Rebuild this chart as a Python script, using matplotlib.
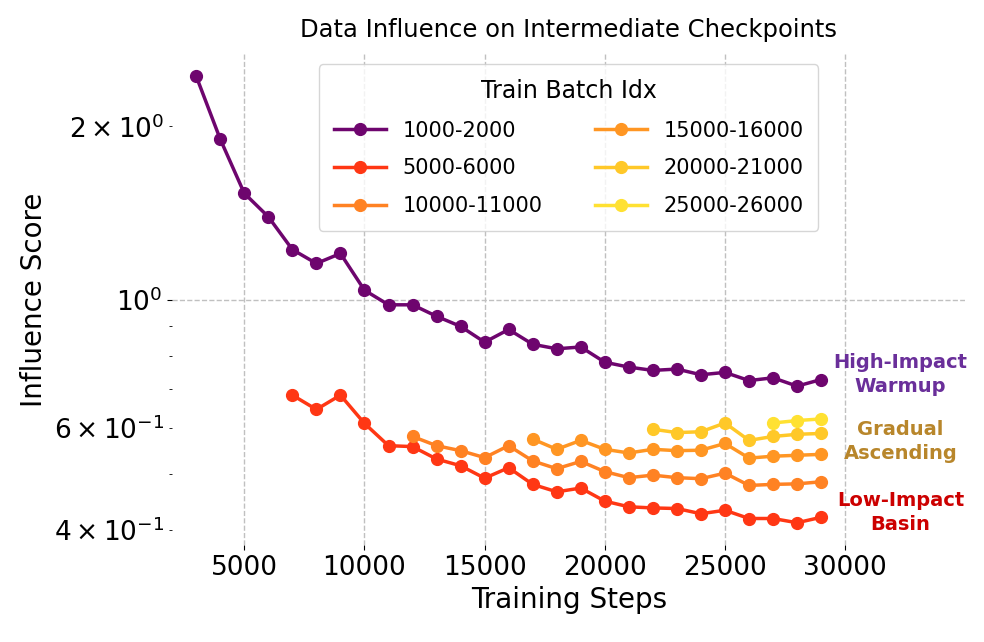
import matplotlib
matplotlib.use('Agg')
import matplotlib.pyplot as plt

plt.rcParams['font.family'] = ['DejaVu Sans']

# training steps of each checkpoint
steps_1000 = list(range(3000, 30000, 1000))
steps_5000 = list(range(7000, 30000, 1000))
steps_10000 = list(range(12000, 30000, 1000))
steps_15000 = list(range(17000, 30000, 1000))
steps_20000 = list(range(22000, 30000, 1000))
steps_25000 = list(range(27000, 30000, 1000))

# influence scores
score_1000 = [2.443, 1.900, 1.531, 1.394, 1.223, 1.157, 1.204, 1.040, 0.981, 0.981,
              0.937, 0.900, 0.845, 0.889, 0.838, 0.823, 0.829, 0.780, 0.765, 0.755,
              0.759, 0.742, 0.749, 0.725, 0.733, 0.709, 0.728]
score_5000 = [0.684, 0.646, 0.684, 0.611, 0.559, 0.557, 0.530, 0.516, 0.491, 0.512,
              0.479, 0.465, 0.472, 0.448, 0.438, 0.436, 0.435, 0.426, 0.432, 0.418,
              0.418, 0.411, 0.420]
score_10000 = [0.580, 0.559, 0.548, 0.533, 0.559, 0.526, 0.510, 0.525, 0.504, 0.492,
               0.497, 0.492, 0.490, 0.501, 0.477, 0.479, 0.480, 0.484]
score_15000 = [0.574, 0.551, 0.571, 0.551, 0.543, 0.551, 0.548, 0.549, 0.564, 0.532,
               0.536, 0.538, 0.540]
score_20000 = [0.597, 0.589, 0.591, 0.612, 0.571, 0.580, 0.585, 0.587]
score_25000 = [0.612, 0.618, 0.622]

batch_labels = ['1000-2000', '5000-6000', '10000-11000',
                '15000-16000', '20000-21000', '25000-26000']
series_steps = [steps_1000, steps_5000, steps_10000, steps_15000, steps_20000, steps_25000]
series_scores = [score_1000, score_5000, score_10000, score_15000, score_20000, score_25000]
colors = ['#6e056e', '#ff3714', '#ff8223', '#ff9623', '#ffc828', '#ffe132']

group_names = ['High-Impact\nWarmup', 'Gradual\nAscending', 'Low-Impact\nBasin']
group_x = [32300, 32300, 32300]
group_y = [0.743, 0.569, 0.428]
group_colors = ['#6a2f9a', '#b8862b', '#cc0000']

fig = plt.figure(figsize=(9.84, 6.42), dpi=100)
ax = fig.add_axes([0.175, 0.151, 0.806, 0.765])

for xs, ys, lab, c in zip(series_steps, series_scores, batch_labels, colors):
    ax.plot(xs, ys, '-o', color=c, label=lab, linewidth=2.5, markersize=8.5)

ax.set_yscale('log')
ax.set_xlim(2000, 35000)

for name, gx, gy, gc in zip(group_names, group_x, group_y, group_colors):
    ax.text(gx, gy, name, color=gc, fontsize=14, fontweight='bold',
            ha='center', va='center', linespacing=1.3)

ax.grid(True, which='major', linestyle='--', color='#c0c0c0', linewidth=1)
for s in ax.spines.values():
    s.set_visible(False)

ax.tick_params(axis='both', which='both', labelsize=19)
ax.tick_params(axis='y', which='minor', length=2.5)
ax.set_xticks([5000, 10000, 15000, 20000, 25000, 30000])
ax.set_xlabel('Training Steps', fontsize=20)
ax.set_ylabel('Influence Score', fontsize=20)
ax.set_title('Data Influence on Intermediate Checkpoints', fontsize=17.5, pad=12)

leg = ax.legend(title='Train Batch Idx', ncol=2, loc='upper center',
                fontsize=15, title_fontsize=17, handlelength=2.5,
                columnspacing=2.5, labelspacing=0.85, borderpad=0.7)
leg.get_frame().set_edgecolor('#cccccc')

fig.savefig('out.png', dpi=100)
